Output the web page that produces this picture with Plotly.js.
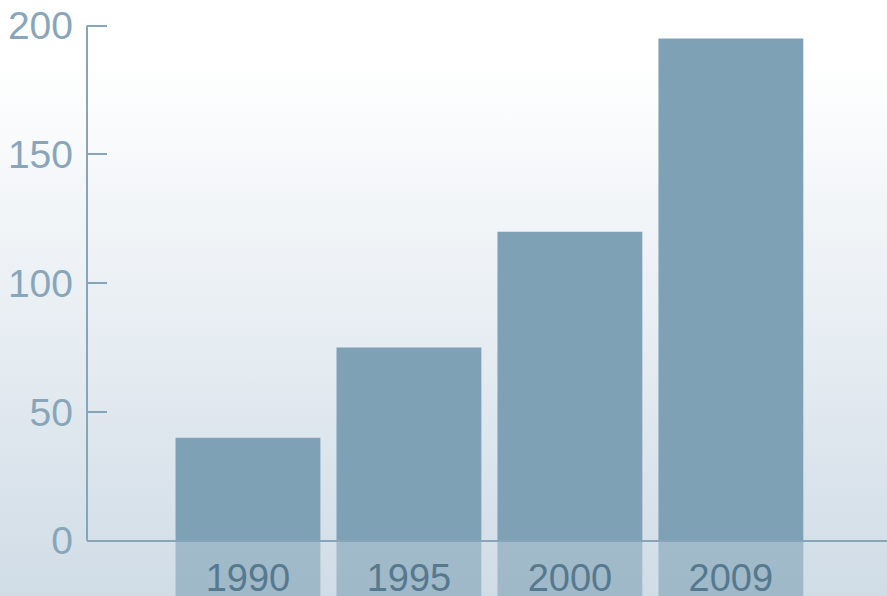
<!DOCTYPE html>
<html>
<head>
<meta charset="utf-8">
<script src="https://cdn.plot.ly/plotly-3.0.1.min.js"></script>
<style>
  html, body { margin: 0; padding: 0; }
  body {
    width: 887px; height: 596px; overflow: hidden;
    background: linear-gradient(to bottom, #ffffff 0%, #ffffff 10%, #d0dce6 100%);
  }
  #chart { width: 887px; height: 596px; }
</style>
</head>
<body>
<div id="chart"></div>
<script>
// Data
const categories = ['1990', '1995', '2000', '2009'];
const values = [40, 75, 120, 195];
const yTickVals = [0, 50, 100, 150, 200];
const yTickText = ['0', '50', '100', '150', '200'];

// Visual-only constants
const reflectDepth = 30;      // how far the light strips extend below the baseline
const yMin = -21.5, yMax = 210;
const axisColor = '#86a5b9';

const mainBars = {
  type: 'bar',
  x: categories,
  y: values,
  width: 0.9,
  marker: { color: '#7fa1b6', line: { width: 0 } },
  hoverinfo: 'x+y',
  showlegend: false
};

const stripBars = {
  type: 'bar',
  x: categories,
  y: categories.map(() => -reflectDepth),
  width: 0.9,
  marker: { color: 'rgba(127,161,182,0.6)', line: { width: 0 } },
  hoverinfo: 'skip',
  showlegend: false
};

const layout = {
  width: 887,
  height: 596,
  margin: { l: 87, r: 0, t: 0, b: 0, pad: 0 },
  paper_bgcolor: 'rgba(0,0,0,0)',
  plot_bgcolor: 'rgba(0,0,0,0)',
  barmode: 'overlay',
  font: { family: '"Liberation Sans", Arial, Helvetica, sans-serif' },
  xaxis: {
    type: 'category',
    range: [-1, 3.97],
    anchor: 'free',
    position: (0 - yMin) / (yMax - yMin),
    showline: true,
    linecolor: axisColor,
    linewidth: 2,
    showgrid: false,
    zeroline: false,
    ticks: 'outside',
    ticklen: 4,
    tickcolor: 'rgba(0,0,0,0)',
    tickfont: { size: 38, color: '#56798f' },
    fixedrange: true
  },
  yaxis: {
    range: [yMin, yMax],
    showline: false,
    showgrid: false,
    zeroline: false,
    tickvals: yTickVals,
    ticktext: yTickText,
    ticks: 'inside',
    ticklen: 20,
    tickwidth: 2,
    tickcolor: axisColor,
    ticklabelstandoff: 13,
    tickfont: { size: 39, color: '#88a6ba' },
    fixedrange: true
  },
  shapes: [{
    type: 'line',
    xref: 'paper', yref: 'y',
    x0: 0, x1: 0, y0: yTickVals[0], y1: yTickVals[yTickVals.length - 1],
    line: { color: axisColor, width: 2 },
    layer: 'above'
  }]
};

Plotly.newPlot('chart', [stripBars, mainBars], layout, { displayModeBar: false, staticPlot: true });
</script>
</body>
</html>
